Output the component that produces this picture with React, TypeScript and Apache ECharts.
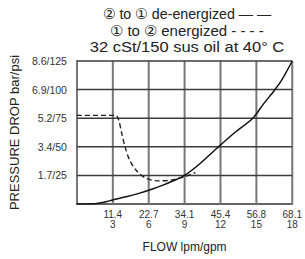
import React, { useEffect, useRef } from "react";
import * as echarts from "echarts";

const xLabelsLpm = ["11.4", "22.7", "34.1", "45.4", "56.8", "68.1"];
const xLabelsGpm = ["3", "6", "9", "12", "15", "18"];
const yLabels = ["1.7/25", "3.4/50", "5.2/75", "6.9/100", "8.6/125"];
const xTicks = [1, 2, 3, 4, 5, 6];
const yTicks = [1, 2, 3, 4, 5];
const xMax = 6;
const yMax = 5;
const titleLines = [
  "② to ① de-energized — —",
  "① to ② energized - - - -",
  "32 cSt/150 sus oil at 40° C",
];

// x in units of one grid step (11.35 lpm / 3 gpm), y in units of one grid step (1.72 bar / 25 psi)
const deEnergized: [number, number][] = [
  [0, 0], [0.5, 0.01], [0.75, 0.06], [1, 0.14], [1.4, 0.26], [1.75, 0.38],
  [2, 0.48], [2.4, 0.66], [2.7, 0.82], [3, 1.0], [3.4, 1.38], [3.9, 1.95],
  [4.4, 2.5], [4.9, 3.0], [5.2, 3.5], [5.5, 3.97], [5.7, 4.32], [6, 5],
];
const energized: [number, number][] = [
  [0, 3.1], [1.08, 3.1], [1.16, 2.95], [1.25, 2.46], [1.34, 2.0], [1.47, 1.53],
  [1.65, 1.18], [1.92, 0.9], [2.28, 0.81], [2.64, 0.84], [3.0, 0.95], [3.3, 1.1],
];

export default function App() {
  const ref = useRef<HTMLDivElement>(null);
  useEffect(() => {
    document.body.style.margin = "0";
    const chart = echarts.init(ref.current!, null, { renderer: "svg" });
    const font = "Liberation Sans, Arial, sans-serif";
    const titleScale = [0.95, 1.0, 1.1];
    const gridItems = [
      ...xTicks.map((v) => [0, v]),
      ...yTicks.map((v) => [1, v]),
    ];
    chart.setOption({
      animation: false,
      grid: { left: 76, right: 7, top: 61, bottom: 55 },
      graphic: titleLines.map((t, i) => ({
        type: "text",
        x: 187,
        y: 13.5 + i * 16.5,
        scaleX: titleScale[i],
        style: {
          text: t,
          fill: "#222",
          font: `15px ${font}`,
          textAlign: "center",
          textVerticalAlign: "middle",
        },
      })),
      xAxis: {
        type: "value",
        min: 0,
        max: xMax,
        interval: 1,
        name: "FLOW lpm/gpm",
        nameLocation: "middle",
        nameGap: 37,
        nameTextStyle: { color: "#222", fontSize: 12, fontFamily: font },
        axisLine: { show: true, lineStyle: { color: "#333", width: 1.5 } },
        axisTick: { show: false },
        splitLine: { show: false },
        axisLabel: {
          color: "#333",
          fontSize: 10,
          fontFamily: font,
          lineHeight: 10,
          margin: 5,
          formatter: (v: number) => (v === 0 ? "" : `${xLabelsLpm[v - 1]}\n${xLabelsGpm[v - 1]}`),
        },
      },
      yAxis: {
        type: "value",
        min: 0,
        max: yMax,
        interval: 1,
        name: "PRESSURE DROP bar/psi",
        nameLocation: "middle",
        nameGap: 54,
        nameTextStyle: { color: "#222", fontSize: 13, fontFamily: font },
        axisLine: { show: true, lineStyle: { color: "#777", width: 2 } },
        axisTick: { show: false },
        splitLine: { show: false },
        axisLabel: {
          color: "#333",
          fontSize: 10.5,
          fontFamily: font,
          margin: 10,
          formatter: (v: number) => (v === 0 ? "" : yLabels[v - 1]),
        },
      },
      series: [
        {
          type: "custom",
          silent: true,
          z: 1,
          data: gridItems,
          renderItem: (params: any, api: any) => {
            const horizontal = api.value(0) === 1;
            const v = api.value(1);
            const a = horizontal ? api.coord([0, v]) : api.coord([v, 0]);
            const b = horizontal ? api.coord([xMax, v]) : api.coord([v, yMax]);
            return {
              type: "line",
              shape: { x1: a[0], y1: a[1], x2: b[0], y2: b[1] },
              style: horizontal
                ? { stroke: "#3c3c3c", lineWidth: 1.5 }
                : { stroke: "#777777", lineWidth: 2 },
            };
          },
        },
        {
          type: "line",
          data: deEnergized,
          smooth: 0.3,
          symbol: "none",
          z: 3,
          lineStyle: { color: "#111", width: 1.5 },
        },
        {
          type: "line",
          data: energized,
          smooth: 0.3,
          symbol: "none",
          z: 3,
          lineStyle: { color: "#222", width: 1.4, type: [5, 3] },
        },
      ],
    });
    return () => chart.dispose();
  }, []);
  return <div ref={ref} style={{ width: 305, height: 259 }} />;
}
